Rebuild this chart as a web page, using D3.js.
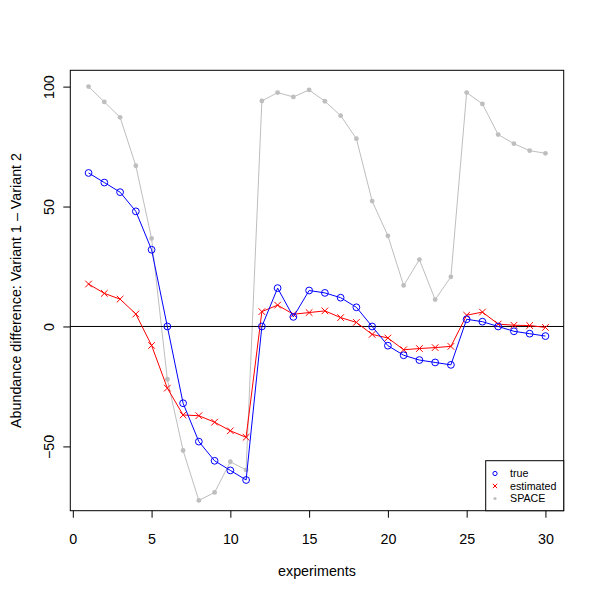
<!DOCTYPE html>
<html>
<head>
<meta charset="utf-8">
<script src="https://cdn.jsdelivr.net/npm/d3@7"></script>
<style>
  html, body { margin: 0; padding: 0; background: #fff; }
  svg text { font-family: "Liberation Sans", Arial, Helvetica, sans-serif; }
</style>
</head>
<body>
<svg id="chart" width="600" height="600"></svg>
<script>
const experiments = d3.range(1, 31);
const trueVals = [64, 60, 56, 48, 32, 0, -32, -48, -56, -60, -64, 0, 16, 4, 15, 14, 12, 8, 0, -8, -12, -14, -15, -16, 3, 2, 0, -2, -3, -4];
const estimatedVals = [17.7, 13.8, 11.4, 5.2, -7.9, -25.7, -36.9, -37.2, -39.9, -43.5, -46.2, 6.2, 8.9, 5.1, 5.8, 6.5, 3.7, 1.7, -3.3, -4.8, -9.7, -9.2, -8.8, -8.3, 4.7, 6.0, 1.0, 0.5, 0.4, -0.4];
const spaceVals = [100, 93.6, 87.2, 67, 36.7, -22, -51.7, -72.5, -69.2, -56.4, -59.8, 94, 97.5, 95.7, 98.6, 93.9, 87.9, 78.3, 52.3, 37.8, 17.1, 27.9, 11.2, 20.7, 97.5, 92.8, 80, 76.2, 73.3, 72.2];
const xTicks = [0, 5, 10, 15, 20, 25, 30];
const yTicks = [-50, 0, 50, 100];
const legendLabels = ["true", "estimated", "SPACE"];
const xLabel = "experiments";
const yLabel = "Abundance difference: Variant 1 \u2013 Variant 2";

const svg = d3.select("#chart");
const L = 70.3, R = 563.7, T = 70.3, B = 510.7;
const x = d3.scaleLinear().domain([-0.16, 31.16]).range([L, R]);
const y = d3.scaleLinear().domain([-76.8, 106.8]).range([B, T]);

const BLUE = "#0000FF", RED = "#FF0000", GREY = "#BEBEBE";

// axes
const xAxis = d3.axisBottom(x).tickValues(xTicks).tickSize(7).tickPadding(0).tickFormat(d3.format("d"));
const gx = svg.append("g").attr("transform", `translate(0,${B})`).call(xAxis);
gx.select(".domain").remove();
gx.selectAll(".tick line").attr("stroke", "#000");
gx.selectAll(".tick text").attr("y", 33.5).attr("dy", null)
  .attr("font-size", 14.3).attr("fill", "#000");

const yAxis = d3.axisLeft(y).tickValues(yTicks).tickSize(7).tickFormat(d => d < 0 ? "\u2212" + Math.abs(d) : d);
const gy = svg.append("g").attr("transform", `translate(${L},0)`).call(yAxis);
gy.select(".domain").remove();
gy.selectAll(".tick line").attr("stroke", "#000");
gy.selectAll(".tick text")
  .attr("x", null).attr("dy", null)
  .attr("text-anchor", "middle")
  .attr("transform", "translate(-16.5,0) rotate(-90)")
  .attr("font-size", 14.3).attr("fill", "#000");

// frame
svg.append("rect").attr("x", L).attr("y", T).attr("width", R - L).attr("height", B - T)
  .attr("fill", "none").attr("stroke", "#000").attr("stroke-width", 1);

// axis titles
svg.append("text").attr("x", (L + R) / 2).attr("y", 576).attr("text-anchor", "middle")
  .attr("font-size", 14.3).text(xLabel);
svg.append("text").attr("transform", `translate(21,${(T + B) / 2}) rotate(-90)`)
  .attr("text-anchor", "middle").attr("font-size", 14.3).text(yLabel);

const plot = svg.append("g");
const line = d3.line().x((d, i) => x(experiments[i])).y(d => y(d));

function crossPath(cx, cy, s) {
  return `M${cx - s},${cy - s}L${cx + s},${cy + s}M${cx - s},${cy + s}L${cx + s},${cy - s}`;
}

// SPACE
plot.append("path").datum(spaceVals).attr("d", line).attr("fill", "none").attr("stroke", GREY).attr("stroke-width", 1);
plot.selectAll(".sp").data(spaceVals).join("circle").attr("class", "sp")
  .attr("cx", (d, i) => x(experiments[i])).attr("cy", d => y(d)).attr("r", 2.4).attr("fill", GREY);

// zero line
plot.append("line").attr("x1", L).attr("x2", R).attr("y1", y(0)).attr("y2", y(0)).attr("stroke", "#000").attr("stroke-width", 1);

// estimated
plot.append("path").datum(estimatedVals).attr("d", line).attr("fill", "none").attr("stroke", RED).attr("stroke-width", 1);
plot.selectAll(".est").data(estimatedVals).join("path").attr("class", "est")
  .attr("d", (d, i) => crossPath(x(experiments[i]), y(d), 3.3)).attr("stroke", RED).attr("stroke-width", 1).attr("fill", "none");

// true
plot.append("path").datum(trueVals).attr("d", line).attr("fill", "none").attr("stroke", BLUE).attr("stroke-width", 1);
plot.selectAll(".tr").data(trueVals).join("circle").attr("class", "tr")
  .attr("cx", (d, i) => x(experiments[i])).attr("cy", d => y(d)).attr("r", 3.4)
  .attr("fill", "none").attr("stroke", BLUE).attr("stroke-width", 1);

// legend
const lg = svg.append("g");
const lgLeft = 485.7, lgTop = 460.7;
lg.append("rect").attr("x", lgLeft).attr("y", lgTop).attr("width", R - lgLeft).attr("height", B - lgTop)
  .attr("fill", "#fff").attr("stroke", "#000").attr("stroke-width", 1);
const rowY = i => 473.5 + i * 12.5;
const symX = 495;
lg.append("circle").attr("cx", symX).attr("cy", rowY(0)).attr("r", 2.1).attr("fill", "none").attr("stroke", BLUE).attr("stroke-width", 1);
lg.append("path").attr("d", crossPath(symX, rowY(1), 2.2)).attr("stroke", RED).attr("stroke-width", 1);
lg.append("circle").attr("cx", symX).attr("cy", rowY(2)).attr("r", 1.6).attr("fill", GREY);
lg.selectAll(".lt").data(legendLabels).join("text").attr("class", "lt")
  .attr("x", 510).attr("y", (d, i) => rowY(i) + 3.8).attr("font-size", 10.7).text(d => d);
</script>
</body>
</html>
